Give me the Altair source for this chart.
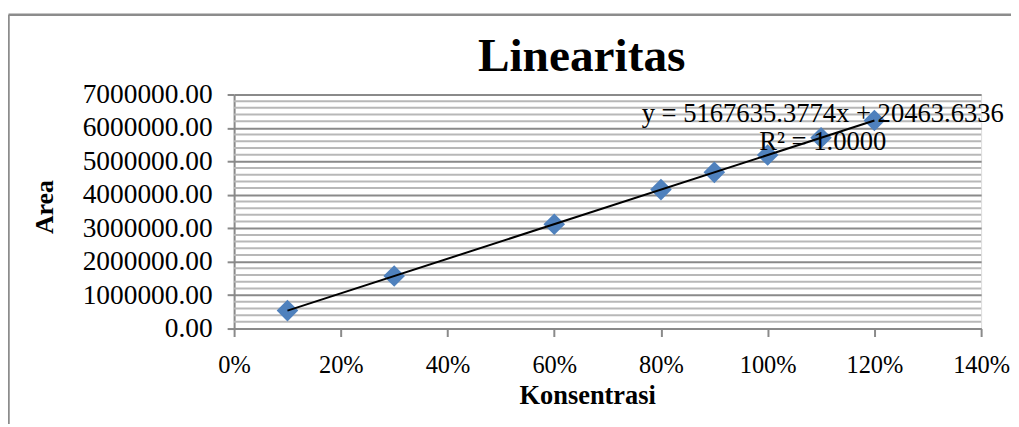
import altair as alt
import pandas as pd

# Data
konsentrasi = [0.10, 0.30, 0.60, 0.80, 0.90, 1.00, 1.10, 1.20]
area = [537000, 1571000, 3121000, 4155000, 4671000, 5188000, 5705000, 6222000]

title_text = "Linearitas"
x_title = "Konsentrasi"
y_title = "Area"
eq_line1 = "y = 5167635.3774x + 20463.6336"
eq_line2 = "R² = 1.0000"

x_ticks = [0, 0.2, 0.4, 0.6, 0.8, 1.0, 1.2, 1.4]
y_major = [0, 1000000, 2000000, 3000000, 4000000, 5000000, 6000000, 7000000]
y_minor = [v for v in range(0, 7000001, 200000) if v % 1000000 != 0]

FONT = "Liberation Serif"
GRID_MAJOR = "#8a8a8a"
GRID_MINOR = "#b8b8b8"

df = pd.DataFrame({"x": konsentrasi, "y": area})
minor_df = pd.DataFrame({"y": y_minor})
one = pd.DataFrame({"k": [0]})

xscale = alt.Scale(domain=[0, 1.4], nice=False, zero=False)
yscale = alt.Scale(domain=[0, 7000000], nice=False)

x_axis = alt.Axis(
    values=x_ticks, format=".0%", title=None, grid=False,
    labelFont=FONT, labelFontSize=24.5, labelColor="black",
    labelPadding=17, tickSize=8, tickColor=GRID_MAJOR, tickWidth=2,
    domainColor=GRID_MAJOR, domainWidth=2, labelFlush=False, labelOverlap=False,
)
y_axis = alt.Axis(
    values=y_major, format=".2f", title=None, grid=True,
    labelFont=FONT, labelFontSize=27.5, labelColor="black", labelOverlap=False,
    labelPadding=15, labelFlush=False,
    tickSize=7, tickColor=GRID_MAJOR, tickWidth=2,
    gridColor=GRID_MAJOR, gridWidth=2,
    domainColor=GRID_MAJOR, domainWidth=2,
)

X = alt.X("x:Q", scale=xscale, axis=x_axis)
Y = alt.Y("y:Q", scale=yscale, axis=y_axis)

minor = alt.Chart(minor_df).mark_rule(color=GRID_MINOR, strokeWidth=2).encode(
    y=Y, x=alt.value(0), x2=alt.value(750),
)

base = alt.Chart(df)

points = base.mark_point(
    shape="diamond", filled=True, size=470, color="#4f81bd", opacity=1
).encode(x=X, y=Y)

trend = base.transform_regression("x", "y").mark_line(
    color="black", strokeWidth=2
).encode(x=X, y=Y)

def label(txt, x, y, size, bold=False, angle=0, align="center", baseline="alphabetic"):
    kw = dict(font=FONT, fontSize=size, color="black", align=align, baseline=baseline)
    if bold:
        kw["fontWeight"] = "bold"
    if angle:
        kw["angle"] = angle
    return alt.Chart(one).mark_text(**kw).encode(
        x=alt.value(x), y=alt.value(y), text=alt.value(txt)
    )

title = label(title_text, 349, -24, 47.5, bold=True)
xt = label(x_title, 355, 311, 26.5, bold=True)
yt = label(y_title, -190, 113, 26, bold=True, angle=270, baseline="middle")
eq1 = label(eq_line1, 591, 28, 26.7)
eq2 = label(eq_line2, 591, 56, 26.7)

border_v = alt.Chart(one).mark_rule(color="#8c8c8c", strokeWidth=2.5).encode(
    x=alt.value(-226.5), y=alt.value(-80), y2=alt.value(340)
)
border_h = alt.Chart(one).mark_rule(color="#8c8c8c", strokeWidth=2.5).encode(
    x=alt.value(-226.5), x2=alt.value(780), y=alt.value(-80)
)

chart = alt.layer(
    border_v, border_h, minor, points, trend, title, xt, yt, eq1, eq2
).properties(
    width=750, height=235,
    padding={"left": 227, "top": 86, "right": 30, "bottom": 95},
    autosize=alt.AutoSizeParams(type="none"),
).configure_view(stroke=None).configure(background="white")

chart.save("out.html", embed_options={"renderer": "svg", "actions": False})
